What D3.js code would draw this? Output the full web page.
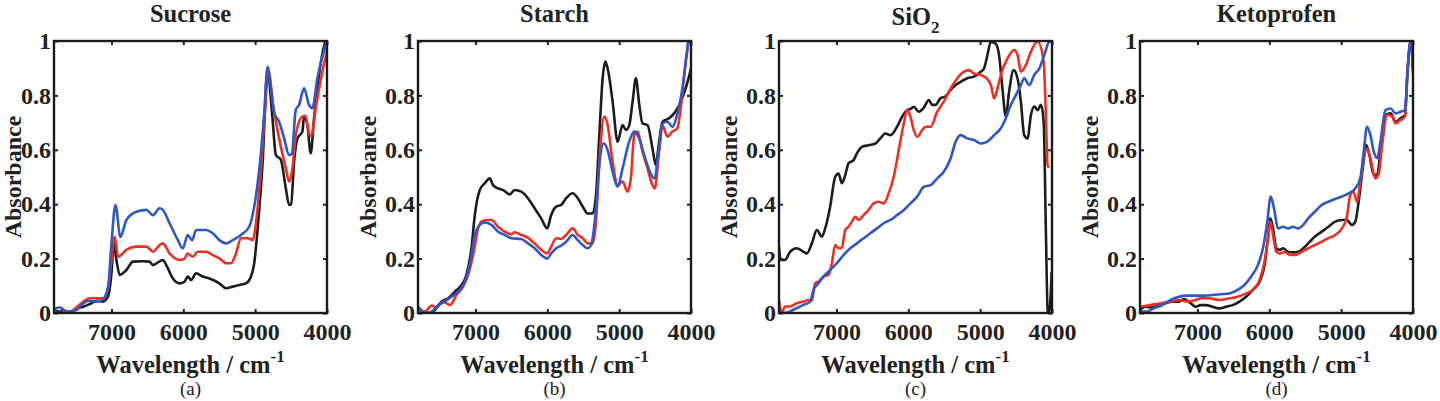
<!DOCTYPE html>
<html>
<head>
<meta charset="utf-8">
<script src="https://cdn.jsdelivr.net/npm/d3@7"></script>
<style>
  html, body { margin: 0; padding: 0; background: #fff; }
  svg { display: block; }
</style>
</head>
<body>
<div id="chart"></div>
<script>
// NIR spectra, normalised absorbance vs wavenumber, four samples
const wavenumberTicks = [7000, 6000, 5000, 4000];
const absorbanceTicks = [0, 0.2, 0.4, 0.6, 0.8, 1];
const panelTitles = ["Sucrose", "Starch", "SiO2", "Ketoprofen"];
const panelLetters = ["(a)", "(b)", "(c)", "(d)"];

// each series: [wavenumber, absorbance]
const sucroseBlack = [[7800,0.01],[7720,0.005],[7670,0.011],[7580,0.0],[7490,0.017],[7390,0.023],[7300,0.033],[7210,0.045],[7120,0.042],[7050,0.06],[7000,0.146],[6968,0.256],[6931,0.195],[6885,0.14],[6792,0.158],[6700,0.189],[6562,0.19],[6469,0.189],[6423,0.176],[6330,0.19],[6284,0.195],[6237,0.176],[6145,0.127],[6053,0.109],[5984,0.115],[5938,0.134],[5891,0.121],[5822,0.146],[5730,0.134],[5637,0.127],[5498,0.109],[5405,0.091],[5313,0.097],[5221,0.103],[5128,0.109],[5058,0.134],[5013,0.183],[4967,0.305],[4897,0.55],[4828,0.89],[4759,0.716],[4712,0.581],[4642,0.563],[4573,0.458],[4527,0.397],[4500,0.4],[4458,0.556],[4412,0.642],[4343,0.667],[4319,0.722],[4273,0.691],[4227,0.587],[4180,0.716],[4111,0.875],[4018,0.997],[4000,1.0]];
const sucroseRed = [[7800,0.01],[7760,0.0],[7580,0.005],[7390,0.042],[7300,0.054],[7210,0.054],[7120,0.054],[7050,0.085],[7000,0.195],[6954,0.28],[6908,0.207],[6792,0.232],[6653,0.244],[6515,0.244],[6423,0.225],[6330,0.25],[6284,0.256],[6191,0.219],[6053,0.195],[5984,0.2],[5938,0.219],[5868,0.207],[5799,0.225],[5683,0.225],[5591,0.213],[5498,0.201],[5405,0.183],[5336,0.183],[5267,0.219],[5197,0.275],[5105,0.275],[5036,0.268],[4989,0.33],[4920,0.526],[4850,0.795],[4822,0.89],[4735,0.74],[4666,0.642],[4573,0.532],[4527,0.483],[4481,0.532],[4435,0.654],[4343,0.722],[4300,0.725],[4250,0.66],[4220,0.65],[4157,0.753],[4065,0.887],[4000,0.96]];
const sucroseBlue = [[7800,0.015],[7717,0.02],[7624,0.005],[7486,0.011],[7393,0.035],[7300,0.045],[7210,0.042],[7116,0.05],[7047,0.097],[7000,0.256],[6945,0.397],[6876,0.28],[6792,0.342],[6653,0.372],[6515,0.379],[6423,0.36],[6330,0.385],[6284,0.379],[6191,0.33],[6076,0.268],[6007,0.238],[5938,0.287],[5877,0.268],[5822,0.305],[5683,0.305],[5591,0.293],[5498,0.268],[5405,0.256],[5313,0.268],[5197,0.287],[5082,0.317],[5013,0.391],[4943,0.526],[4874,0.734],[4828,0.905],[4735,0.735],[4666,0.703],[4597,0.642],[4527,0.581],[4490,0.585],[4435,0.746],[4389,0.765],[4319,0.826],[4250,0.765],[4204,0.753],[4134,0.863],[4018,0.985],[4000,1.0]];

const starchBlack = [[7800,0.023],[7726,0.005],[7634,0.0],[7564,0.011],[7472,0.042],[7379,0.054],[7287,0.078],[7194,0.103],[7125,0.14],[7056,0.238],[7009,0.36],[6940,0.452],[6871,0.477],[6801,0.495],[6755,0.47],[6686,0.458],[6616,0.452],[6524,0.436],[6455,0.452],[6362,0.446],[6270,0.422],[6177,0.385],[6085,0.348],[6002,0.311],[5946,0.36],[5877,0.391],[5807,0.397],[5738,0.422],[5646,0.44],[5576,0.422],[5507,0.391],[5438,0.366],[5368,0.366],[5322,0.434],[5276,0.654],[5230,0.863],[5192,0.924],[5151,0.887],[5091,0.777],[5021,0.63],[4952,0.691],[4906,0.673],[4860,0.69],[4813,0.777],[4767,0.863],[4720,0.765],[4675,0.697],[4605,0.691],[4536,0.605],[4490,0.544],[4444,0.63],[4397,0.703],[4305,0.716],[4235,0.734],[4189,0.752],[4143,0.777],[4074,0.826],[4027,0.87],[4000,0.9]];
const starchRed = [[7800,0.015],[7703,0.005],[7610,0.027],[7541,0.02],[7449,0.042],[7356,0.029],[7264,0.066],[7171,0.097],[7102,0.14],[7033,0.213],[6963,0.311],[6917,0.336],[6848,0.342],[6778,0.342],[6686,0.317],[6593,0.299],[6501,0.29],[6455,0.297],[6362,0.287],[6270,0.277],[6177,0.256],[6085,0.232],[6002,0.219],[5946,0.244],[5877,0.275],[5807,0.272],[5738,0.287],[5646,0.311],[5576,0.287],[5507,0.275],[5438,0.256],[5368,0.256],[5322,0.336],[5276,0.556],[5206,0.722],[5160,0.691],[5091,0.556],[5021,0.47],[4952,0.483],[4883,0.446],[4837,0.495],[4790,0.654],[4744,0.667],[4675,0.593],[4605,0.532],[4536,0.47],[4504,0.458],[4444,0.593],[4397,0.691],[4328,0.648],[4259,0.667],[4189,0.679],[4143,0.752],[4074,0.924],[4030,1.0]];
const starchBlue = [[7800,0.017],[7703,0.0],[7610,0.005],[7518,0.029],[7426,0.042],[7333,0.06],[7241,0.078],[7148,0.115],[7079,0.176],[7009,0.287],[6940,0.324],[6871,0.333],[6778,0.324],[6686,0.299],[6593,0.287],[6501,0.275],[6362,0.272],[6270,0.256],[6177,0.238],[6085,0.213],[6002,0.2],[5946,0.219],[5877,0.238],[5807,0.248],[5738,0.262],[5646,0.287],[5576,0.268],[5507,0.25],[5438,0.238],[5391,0.25],[5322,0.385],[5276,0.544],[5216,0.624],[5160,0.599],[5091,0.52],[5021,0.464],[4952,0.532],[4860,0.63],[4790,0.667],[4721,0.642],[4652,0.581],[4582,0.526],[4513,0.495],[4444,0.605],[4397,0.697],[4328,0.703],[4259,0.685],[4189,0.734],[4120,0.826],[4040,1.0]];

const sio2Black = [[7800,0.244],[7777,0.195],[7716,0.195],[7646,0.225],[7553,0.238],[7460,0.225],[7413,0.219],[7343,0.256],[7273,0.305],[7203,0.281],[7157,0.311],[7088,0.391],[7018,0.501],[6972,0.513],[6924,0.477],[6878,0.507],[6832,0.55],[6762,0.562],[6716,0.587],[6645,0.611],[6552,0.617],[6459,0.623],[6389,0.642],[6319,0.66],[6249,0.654],[6156,0.685],[6086,0.722],[6016,0.746],[5970,0.75],[5924,0.758],[5854,0.74],[5784,0.755],[5714,0.783],[5667,0.765],[5621,0.765],[5551,0.79],[5481,0.797],[5411,0.82],[5341,0.838],[5271,0.85],[5178,0.863],[5085,0.869],[4992,0.887],[4946,0.899],[4899,0.948],[4852,0.997],[4783,0.99],[4737,0.948],[4690,0.826],[4643,0.722],[4597,0.814],[4535,0.893],[4480,0.863],[4433,0.777],[4387,0.654],[4340,0.642],[4293,0.728],[4247,0.759],[4200,0.746],[4154,0.765],[4116,0.703],[4084,0.287],[4060,0.005],[4040,0.0],[4024,0.04],[4005,0.15]];
const sio2Red = [[7800,0.048],[7762,0.0],[7716,0.024],[7646,0.024],[7553,0.036],[7460,0.042],[7390,0.048],[7343,0.045],[7297,0.109],[7251,0.115],[7181,0.134],[7111,0.14],[7064,0.183],[7018,0.25],[6972,0.238],[6924,0.24],[6878,0.305],[6832,0.317],[6785,0.336],[6738,0.354],[6692,0.342],[6622,0.36],[6552,0.379],[6483,0.403],[6413,0.409],[6343,0.403],[6273,0.44],[6203,0.501],[6133,0.599],[6063,0.697],[6016,0.746],[5970,0.722],[5924,0.672],[5877,0.648],[5807,0.672],[5760,0.685],[5690,0.685],[5597,0.74],[5500,0.78],[5410,0.826],[5317,0.863],[5224,0.887],[5155,0.893],[5085,0.88],[4991,0.875],[4900,0.86],[4851,0.838],[4805,0.789],[4759,0.826],[4712,0.875],[4619,0.936],[4526,0.967],[4479,0.948],[4433,0.887],[4363,0.912],[4293,0.961],[4200,0.998],[4116,0.924],[4084,0.716],[4060,0.538],[4035,0.54]];
const sio2Blue = [[7800,0.012],[7740,0.0],[7646,0.006],[7553,0.018],[7460,0.03],[7367,0.042],[7320,0.085],[7251,0.109],[7181,0.134],[7088,0.158],[6994,0.183],[6902,0.213],[6808,0.238],[6716,0.256],[6622,0.275],[6529,0.293],[6436,0.311],[6343,0.33],[6249,0.342],[6156,0.36],[6063,0.379],[5970,0.403],[5877,0.428],[5784,0.464],[5690,0.47],[5597,0.495],[5504,0.52],[5411,0.569],[5341,0.63],[5271,0.654],[5178,0.642],[5085,0.636],[4992,0.623],[4899,0.63],[4806,0.654],[4712,0.679],[4643,0.716],[4573,0.765],[4503,0.801],[4433,0.838],[4387,0.863],[4317,0.838],[4247,0.875],[4177,0.899],[4107,0.948],[4037,0.998],[4000,1.0]];

const ketoBlack = [[7800,0.011],[7725,0.023],[7632,0.02],[7538,0.029],[7445,0.036],[7351,0.042],[7258,0.042],[7188,0.051],[7094,0.036],[7024,0.023],[6954,0.029],[6884,0.029],[6790,0.023],[6697,0.017],[6603,0.023],[6510,0.029],[6416,0.042],[6323,0.06],[6229,0.085],[6136,0.115],[6066,0.176],[6019,0.275],[5986,0.348],[5949,0.311],[5902,0.238],[5855,0.232],[5808,0.238],[5738,0.225],[5668,0.223],[5598,0.225],[5528,0.238],[5458,0.256],[5364,0.281],[5271,0.299],[5177,0.317],[5084,0.336],[4990,0.342],[4920,0.342],[4850,0.324],[4803,0.336],[4757,0.409],[4700,0.532],[4654,0.618],[4607,0.581],[4546,0.507],[4499,0.507],[4453,0.593],[4383,0.728],[4312,0.734],[4242,0.703],[4172,0.716],[4111,0.728],[4079,0.875],[4046,0.985],[4025,1.0],[4000,0.9]];
const ketoRed = [[7800,0.023],[7655,0.029],[7515,0.036],[7375,0.042],[7258,0.048],[7141,0.042],[7024,0.048],[6954,0.054],[6837,0.054],[6697,0.048],[6556,0.054],[6440,0.06],[6323,0.072],[6229,0.085],[6136,0.121],[6066,0.189],[6019,0.275],[5986,0.336],[5949,0.287],[5902,0.225],[5855,0.219],[5785,0.225],[5715,0.213],[5645,0.213],[5551,0.225],[5458,0.238],[5364,0.25],[5271,0.262],[5177,0.275],[5084,0.287],[4990,0.311],[4920,0.354],[4873,0.434],[4827,0.446],[4780,0.409],[4733,0.483],[4686,0.569],[4640,0.605],[4593,0.569],[4523,0.495],[4476,0.513],[4429,0.618],[4359,0.728],[4289,0.722],[4242,0.697],[4172,0.71],[4111,0.722],[4079,0.875],[4040,0.99],[4020,1.0],[4000,0.9]];
const ketoBlue = [[7800,0.005],[7702,0.005],[7608,0.017],[7491,0.029],[7375,0.048],[7258,0.06],[7141,0.064],[7024,0.064],[6907,0.064],[6790,0.066],[6673,0.069],[6556,0.072],[6440,0.085],[6346,0.103],[6253,0.134],[6159,0.176],[6089,0.238],[6028,0.336],[5981,0.428],[5935,0.385],[5879,0.311],[5808,0.317],[5738,0.311],[5668,0.317],[5598,0.311],[5528,0.324],[5458,0.348],[5364,0.373],[5271,0.397],[5177,0.409],[5084,0.419],[4990,0.428],[4897,0.44],[4803,0.458],[4733,0.495],[4686,0.593],[4640,0.685],[4593,0.654],[4546,0.593],[4499,0.569],[4453,0.63],[4383,0.746],[4312,0.752],[4242,0.734],[4172,0.74],[4111,0.746],[4079,0.875],[4032,1.0],[4000,0.88]];

const lineColors = ["#1c1c1c", "#ee3024", "#3157c2"];
const serif = "'Liberation Serif', 'Times New Roman', 'DejaVu Serif', serif";

const panels = [
  [sucroseBlack, sucroseRed, sucroseBlue],
  [starchBlack, starchRed, starchBlue],
  [sio2Black, sio2Red, sio2Blue],
  [ketoBlack, ketoRed, ketoBlue]
];

// layout
const W = 1440, H = 401;
const panelLeft = [54, 418, 779, 1140];
const plotTop = 41, plotW = 273, plotH = 272;

const svg = d3.select("#chart").append("svg")
  .attr("width", W)
  .attr("height", H)
  .style("font-family", serif);

const x = d3.scaleLinear().domain([7800, 4000]).range([0, plotW]);
const y = d3.scaleLinear().domain([0, 1]).range([plotH, 0]);

const line = d3.line()
  .x(d => x(d[0]))
  .y(d => y(d[1]))
  .curve(d3.curveMonotoneX);

panels.forEach((series, i) => {
  const g = svg.append("g")
    .attr("transform", `translate(${panelLeft[i]},${plotTop})`);

  // clip the spectra to the axes box
  g.append("clipPath").attr("id", "clip" + i)
    .append("rect").attr("width", plotW).attr("height", plotH);

  const lines = g.append("g").attr("clip-path", `url(#clip${i})`);
  series.forEach((s, k) => {
    lines.append("path")
      .datum(s)
      .attr("fill", "none")
      .attr("stroke", lineColors[k])
      .attr("stroke-width", 2.6)
      .attr("stroke-linejoin", "round")
      .attr("d", line);
  });

  // bottom axis with labels, ticks inward
  const xb = g.append("g")
    .attr("transform", `translate(0,${plotH})`)
    .call(d3.axisBottom(x).tickValues(wavenumberTicks).tickSize(-4).tickPadding(10)
      .tickFormat(d3.format("d")));
  // top axis, ticks only
  const xt = g.append("g")
    .call(d3.axisTop(x).tickValues(wavenumberTicks).tickSize(-4).tickFormat(""));
  const yl = g.append("g")
    .call(d3.axisLeft(y).tickValues(absorbanceTicks).tickSize(-4).tickPadding(3)
      .tickFormat(d => d === 0 || d === 1 ? d3.format("d")(d) : d3.format(".1f")(d)));
  const yr = g.append("g")
    .attr("transform", `translate(${plotW},0)`)
    .call(d3.axisRight(y).tickValues(absorbanceTicks).tickSize(-4).tickFormat(""));

  [xb, xt, yl, yr].forEach(a => {
    a.attr("font-family", null);
    a.select(".domain").remove();
    a.selectAll(".tick line").attr("stroke", "#222").attr("stroke-width", 2);
    a.selectAll("text")
      .style("font-family", serif)
      .style("font-size", "24px")
      .style("font-weight", "bold")
      .attr("fill", "#222");
  });

  // axes box
  g.append("rect")
    .attr("width", plotW)
    .attr("height", plotH)
    .attr("fill", "none")
    .attr("stroke", "#1a1a1a")
    .attr("stroke-width", 2.4);

  // title
  const title = g.append("text")
    .attr("x", plotW / 2)
    .attr("y", i === 2 ? -16 : -19)
    .attr("text-anchor", "middle")
    .attr("fill", "#222")
    .style("font-family", serif)
    .style("font-size", "24.5px")
    .style("font-weight", "bold");
  if (panelTitles[i] === "SiO2") {
    title.append("tspan").text("SiO");
    title.append("tspan").text("2").attr("dy", 8).style("font-size", "17px");
  } else {
    title.text(panelTitles[i]);
  }

  // y label
  g.append("text")
    .attr("transform", `translate(${i === 0 ? -33 : -42},${plotH / 2}) rotate(-90)`)
    .attr("text-anchor", "middle")
    .attr("fill", "#222")
    .style("font-family", serif)
    .style("font-size", "24px")
    .style("font-weight", "bold")
    .text("Absorbance");

  // x label
  const xl = g.append("text")
    .attr("x", plotW / 2)
    .attr("y", 332)
    .attr("text-anchor", "middle")
    .attr("fill", "#222")
    .style("font-family", serif)
    .style("font-size", "24.5px")
    .style("font-weight", "bold");
  xl.append("tspan").text("Wavelength / cm");
  xl.append("tspan").text("-1").attr("dy", -11).style("font-size", "17px");

  // panel letter
  g.append("text")
    .attr("x", plotW / 2)
    .attr("y", 354)
    .attr("text-anchor", "middle")
    .attr("fill", "#222")
    .style("font-family", serif)
    .style("font-size", "19px")
    .text(panelLetters[i]);
});
</script>
</body>
</html>
